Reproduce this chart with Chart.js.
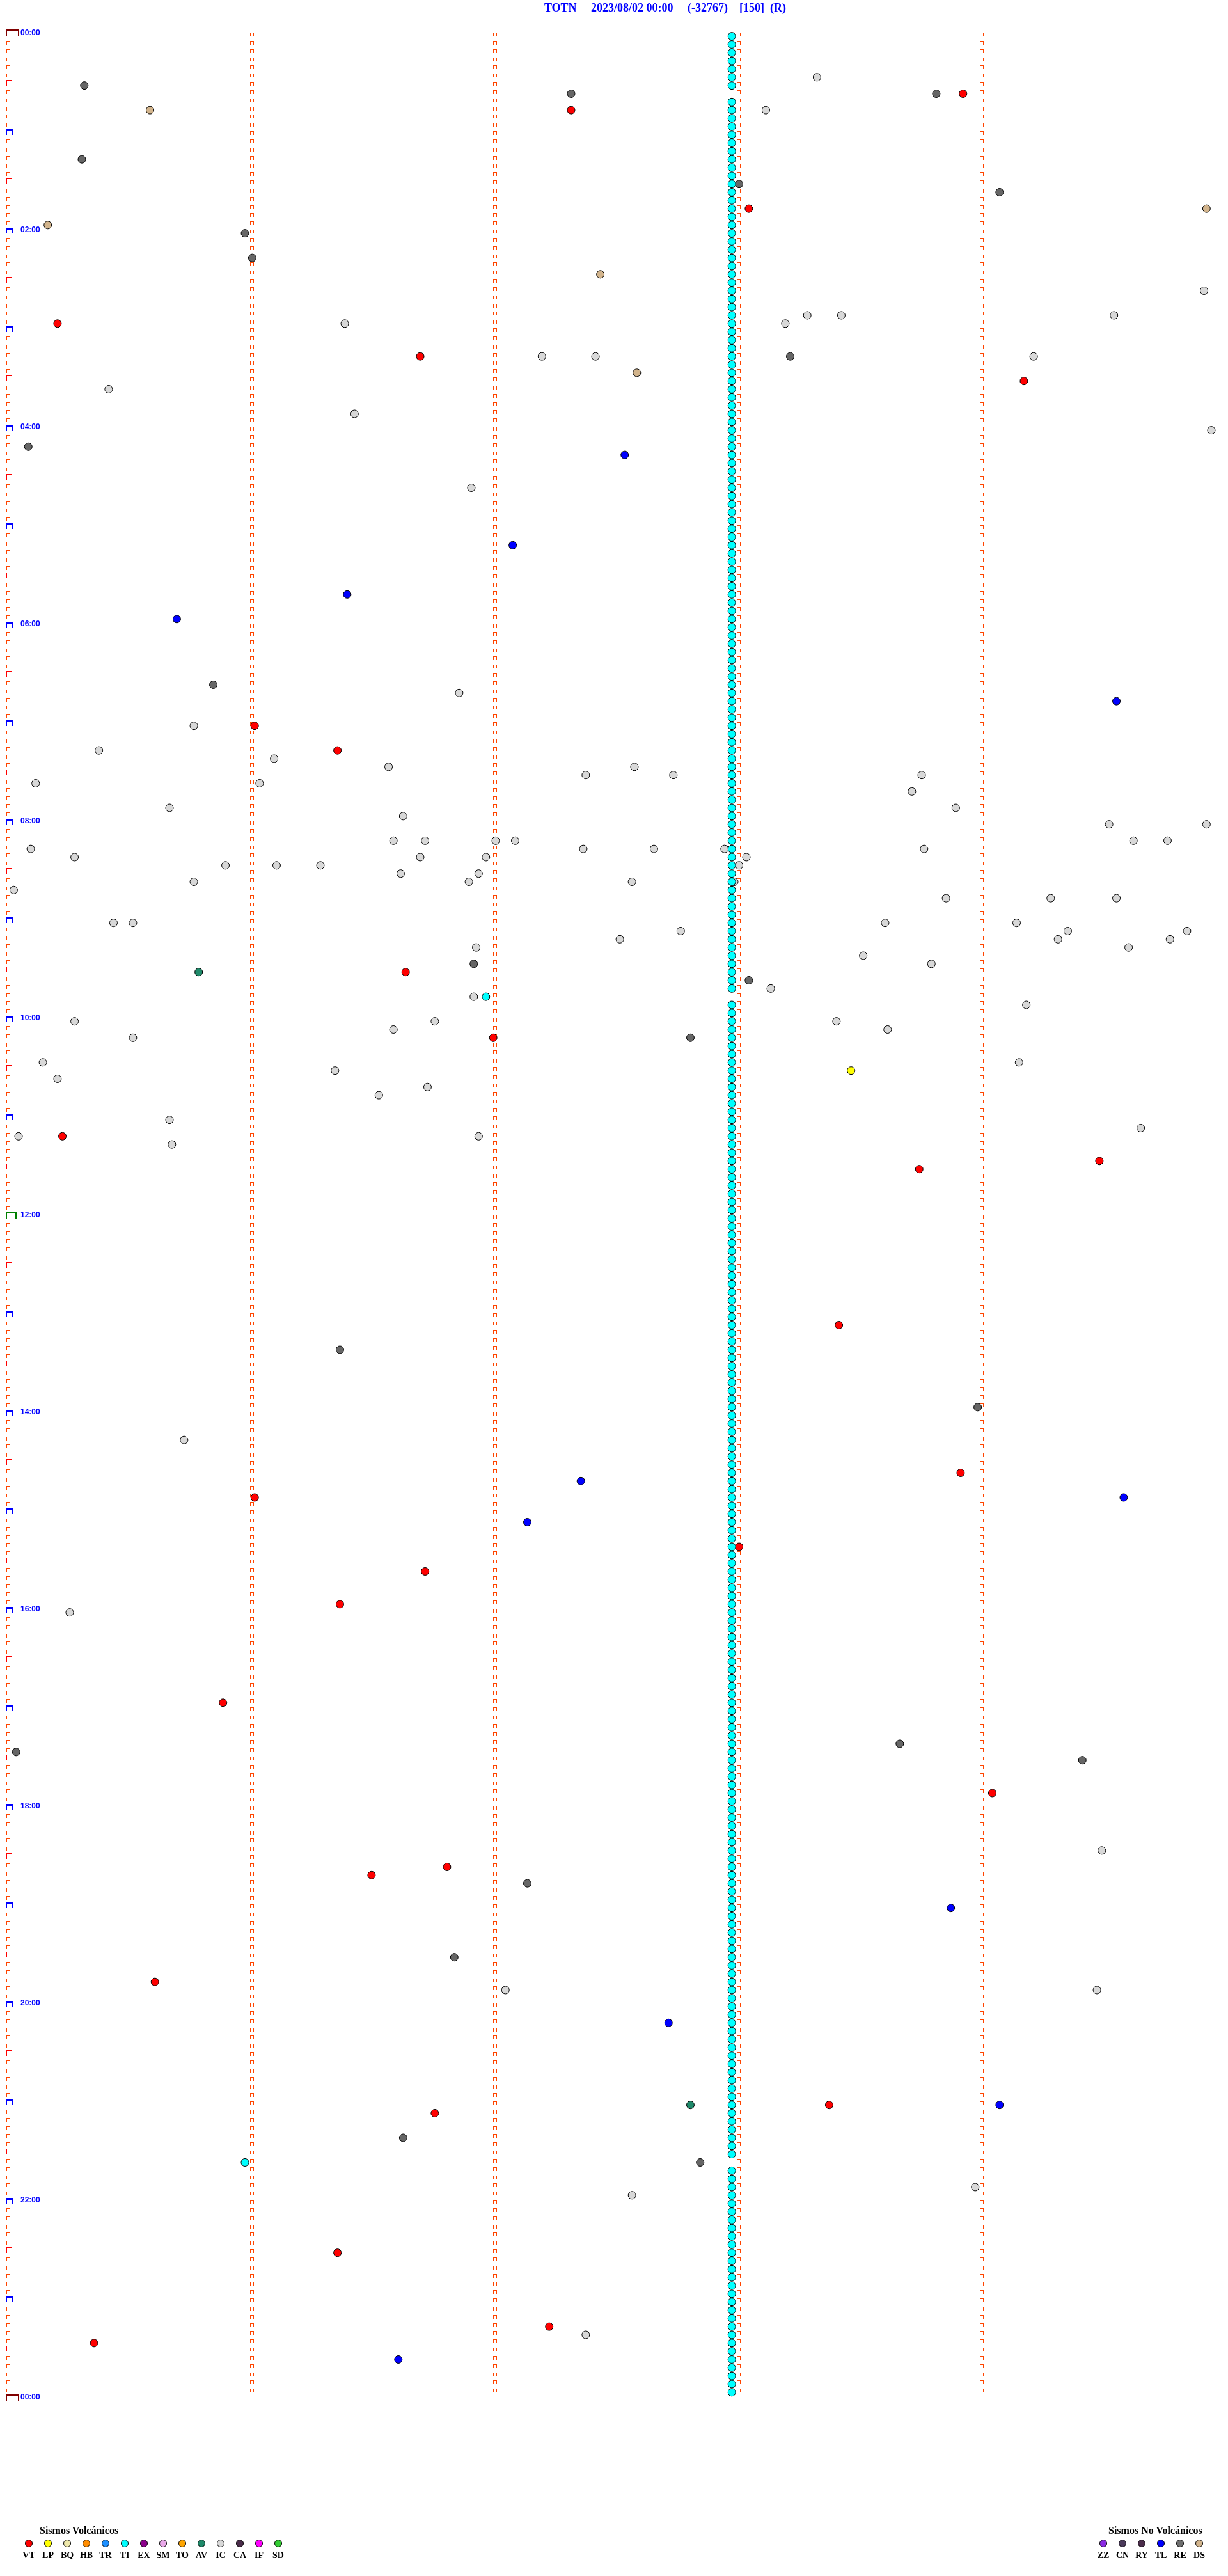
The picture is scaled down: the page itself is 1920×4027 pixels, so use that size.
<!DOCTYPE html>
<html>
<head>
<meta charset="utf-8">
<script src="https://cdn.jsdelivr.net/npm/chart.js@4.4.0/dist/chart.umd.min.js"></script>
<style>
  body { margin: 0; background: #fff; }
  #wrap { position: relative; width: 1920px; height: 4027px; overflow: hidden; }
  #chart { position: absolute; left: 0; top: 0; }
  .title { position: absolute; top: 2px; left: 0; width: 2080px; text-align: center;
    font: bold 18px "Liberation Serif", serif; color: #0000ff; white-space: pre; }
  .legTitle { position: absolute; font: bold 16px "Liberation Serif", serif; color: #000; white-space: nowrap; }
  .dot { position: absolute; width: 10px; height: 10px; border: 1px solid #000; border-radius: 50%; }
  .code { position: absolute; width: 30px; text-align: center; font: bold 14px "Liberation Serif", serif; color: #000; }
</style>
</head>
<body>
<div id="wrap">
  <canvas id="chart" width="1920" height="4027"></canvas>
  <div class="title">TOTN     2023/08/02 00:00     (-32767)    [150]  (R)</div>
  <div id="legends"></div>
</div>
<script>
// event times in minutes after 00:00 (row = 5 minutes)
const vtTimes = [38.93, 47.32, 108.05, 175.21, 196.70, 214.18, 421.02, 436.36, 571.64, 612.00, 670.23, 689.49, 693.75,
  788.42, 878.92, 891.02, 923.01, 936.72, 956.37, 1015.89, 1074.05, 1116.81, 1121.50, 1185.61, 1263.38, 1266.76,
  1351.36, 1397.23, 1405.36];
const lpTimes = [633.47];
const avTimes = [570.79, 1262.81];
const tlTimes = [257.54, 312.08, 341.40, 355.70, 409.56, 882.36, 894.59, 907.14, 1143.88, 1212.72, 1264.08, 1416.61];
const reTimes = [30.32, 37.32, 38.82, 75.31, 93.01, 99.08, 120.98, 136.01, 198.22, 250.09, 395.85, 566.92, 578.05,
  612.81, 801.37, 838.99, 1043.67, 1045.04, 1054.42, 1127.14, 1171.84, 1281.63, 1297.85];
const dsTimes = [45.59, 109.93, 115.17, 147.44, 207.59];
const icTimes = [28.33, 48.12, 159.92, 173.29, 173.43, 174.55, 176.39, 178.20, 197.20, 197.42, 199.22, 215.42, 231.43,
  244.95, 276.91, 401.86, 420.77, 435.38, 441.10, 446.57, 447.58, 452.38, 452.74, 453.76, 455.12, 456.04, 463.72,
  470.67, 473.90, 476.63, 484.53, 484.93, 491.59, 491.72, 492.01, 492.09, 494.63, 494.77, 495.10, 497.37, 497.66,
  497.95, 498.77, 500.28, 501.70, 501.97, 503.04, 505.90, 506.11, 506.29, 508.01, 511.62, 511.94, 515.77, 516.90,
  517.57, 517.99, 520.03, 528.86, 529.29, 529.56, 540.44, 540.52, 543.61, 544.15, 547.77, 549.36, 549.85, 552.52,
  554.32, 554.78, 556.93, 559.61, 563.52, 568.80, 583.14, 586.92, 594.19, 600.28, 601.76, 603.41, 606.59, 608.62,
  610.52, 625.15, 629.16, 631.35, 635.21, 641.73, 646.53, 660.67, 669.66, 670.05, 671.94, 675.68, 855.73, 960.26,
  1109.50, 1192.05, 1194.48, 1313.98, 1317.57, 1402.38];
// TI: one event per 5-minute row at ~2.98 min, rows listed; plus two off-column ones
const tiMinute = 2.98;
const tiRows = [0, 1, 2, 3, 4, 5, 6,
  8, 9, 10, 11, 12, 13, 14, 15, 16, 17, 18, 19, 20, 21, 22, 23, 24, 25, 26, 27, 28, 29, 30, 31, 32, 33, 34, 35,
  36, 37, 38, 39, 40, 41, 42, 43, 44, 45, 46, 47, 48, 49, 50, 51, 52, 53, 54, 55, 56, 57, 58, 59, 60, 61, 62, 63,
  64, 65, 66, 67, 68, 69, 70, 71, 72, 73, 74, 75, 76, 77, 78, 79, 80, 81, 82, 83, 84, 85, 86, 87, 88, 89, 90, 91,
  92, 93, 94, 95, 96, 97, 98, 99, 100, 101, 102, 103, 104, 105, 106, 107, 108, 109, 110, 111, 112, 113, 114, 115, 116,
  118, 119, 120, 121, 122, 123, 124, 125, 126, 127, 128, 129, 130, 131, 132, 133, 134, 135, 136, 137, 138, 139,
  140, 141, 142, 143, 144, 145, 146, 147, 148, 149, 150, 151, 152, 153, 154, 155, 156, 157, 158, 159, 160, 161,
  162, 163, 164, 165, 166, 167, 168, 169, 170, 171, 172, 173, 174, 175, 176, 177, 178, 179, 180, 181, 182, 183,
  184, 185, 186, 187, 188, 189, 190, 191, 192, 193, 194, 195, 196, 197, 198, 199, 200, 201, 202, 203, 204, 205,
  206, 207, 208, 209, 210, 211, 212, 213, 214, 215, 216, 217, 218, 219, 220, 221, 222, 223, 224, 225, 226, 227,
  228, 229, 230, 231, 232, 233, 234, 235, 236, 237, 238, 239, 240, 241, 242, 243, 244, 245, 246, 247, 248, 249,
  250, 251, 252, 253, 254, 255, 256, 257, 258,
  260, 261, 262, 263, 264, 265, 266, 267, 268, 269, 270, 271, 272, 273, 274, 275, 276, 277, 278, 279, 280, 281,
  282, 283, 284, 285, 286, 287];
const tiOther = [586.97, 1295.98];

const hourLabels = ['00:00', '02:00', '04:00', '06:00', '08:00', '10:00', '12:00', '14:00', '16:00', '18:00', '20:00', '22:00', '00:00'];
const labelMinutes = [0, 120, 240, 360, 480, 600, 720, 840, 960, 1080, 1200, 1320, 1440];

const volcanicCodes = ['VT', 'LP', 'BQ', 'HB', 'TR', 'TI', 'EX', 'SM', 'TO', 'AV', 'IC', 'CA', 'IF', 'SD'];
const volcanicColors = ['#ff0000', '#ffff00', '#eee8aa', '#ff8c00', '#1e90ff', '#00ffff', '#8b008b', '#e8a8e8',
  '#ffa500', '#1f8a6a', '#d8d8d8', '#4a2c4a', '#ff00ff', '#32cd32'];
const otherCodes = ['ZZ', 'CN', 'RY', 'TL', 'RE', 'DS'];
const otherColors = ['#8a2be2', '#4b3a5a', '#4b2d4b', '#0000ff', '#6e6e6e', '#d2b48c'];

const ROW = 5;
function toPoint(t) {
  const start = Math.floor(t / ROW) * ROW;
  return { x: t - start, y: start + 2.2 };
}

function ds(label, color, pts) {
  return {
    label: label, data: pts, backgroundColor: color, borderColor: '#000', borderWidth: 1,
    pointRadius: 6, pointHoverRadius: 6, clip: false
  };
}

const tiPoints = tiRows.map(r => ({ x: tiMinute, y: r * ROW + 2.2 })).concat(tiOther.map(toPoint));

const datasets = [
  ds('TI', '#00ffff', tiPoints),
  ds('IC', '#d8d8d8', icTimes.map(toPoint)),
  ds('RE', '#666666', reTimes.map(toPoint)),
  ds('DS', '#d2b48c', dsTimes.map(toPoint)),
  ds('TL', '#0000ff', tlTimes.map(toPoint)),
  ds('AV', '#1f8a6a', avTimes.map(toPoint)),
  ds('LP', '#ffff00', lpTimes.map(toPoint)),
  ds('VT', '#ff0000', vtTimes.map(toPoint))
];

// little "⊓" marks at each minute of every row, bigger ones at half hours / hours on the left
const markerPlugin = {
  id: 'rowMarkers',
  beforeDatasetsDraw(chart) {
    const { ctx, scales: { x, y } } = chart;
    ctx.save();
    function cap(x0, y0, w, h, top, leg, color) {
      ctx.fillStyle = color;
      ctx.fillRect(x0, y0, w, top);
      ctx.fillRect(x0, y0, leg, h);
      ctx.fillRect(x0 + w - leg, y0, leg, h);
    }
    for (let m = 0; m <= 1440; m += ROW) {
      const py = Math.round(y.getPixelForValue(m));
      for (let c = 0; c < 5; c++) {
        const px = Math.round(x.getPixelForValue(c));
        if (c === 0) {
          if (m % 1440 === 0) { cap(px - 1, py - 5, 21, 11, 3, 2, '#800000'); continue; }
          if (m === 720) { cap(px - 1, py - 5, 17, 11, 2, 2, '#008000'); continue; }
          if (m % 60 === 0) { cap(px - 1, py - 3, 12, 9, 3, 2, '#0000ff'); continue; }
          if (m % 30 === 0) { cap(px, py - 3, 9, 9, 1, 1, '#ff0000'); continue; }
        }
        if (m === 1440) continue;
        cap(px, py, 6, 6, 1, 1, '#ff4500');
      }
    }
    ctx.fillStyle = '#0000ff';
    ctx.font = 'bold 12px "Liberation Sans", Arial, sans-serif';
    ctx.textBaseline = 'middle';
    ctx.textAlign = 'left';
    labelMinutes.forEach((m, i) => {
      ctx.fillText(hourLabels[i], x.getPixelForValue(0) + 22, y.getPixelForValue(m) + 1);
    });
    ctx.restore();
  }
};

new Chart(document.getElementById('chart'), {
  type: 'scatter',
  data: { datasets: datasets },
  options: {
    responsive: false,
    animation: false,
    devicePixelRatio: 1,
    layout: { padding: { left: 10, right: 0, top: 51, bottom: 280 } },
    scales: {
      x: { type: 'linear', min: 0, max: 5, display: false },
      y: { type: 'linear', min: 0, max: 1440, reverse: true, display: false }
    },
    plugins: { legend: { display: false }, tooltip: { enabled: false }, title: { display: false } }
  },
  plugins: [markerPlugin]
});

// legends under the chart
function buildLegend(title, titleX, codes, colors, firstX) {
  const box = document.getElementById('legends');
  const t = document.createElement('div');
  t.className = 'legTitle';
  t.textContent = title;
  t.style.left = titleX + 'px';
  t.style.top = '3947px';
  box.appendChild(t);
  codes.forEach((c, i) => {
    const cx = firstX + i * 30;
    const d = document.createElement('div');
    d.className = 'dot';
    d.style.background = colors[i];
    d.style.left = (cx - 6) + 'px';
    d.style.top = (3976 - 6) + 'px';
    box.appendChild(d);
    const l = document.createElement('div');
    l.className = 'code';
    l.textContent = c;
    l.style.left = (cx - 15) + 'px';
    l.style.top = '3987px';
    box.appendChild(l);
  });
}
buildLegend('Sismos Volcánicos', 62, volcanicCodes, volcanicColors, 45);
buildLegend('Sismos No Volcánicos', 1733, otherCodes, otherColors, 1725);
</script>
</body>
</html>
